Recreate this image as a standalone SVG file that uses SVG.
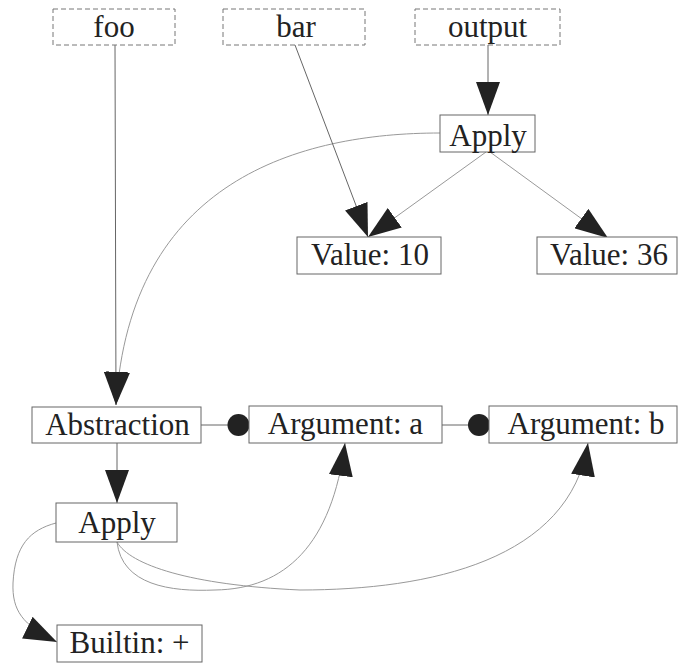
<svg xmlns="http://www.w3.org/2000/svg" width="678" height="664" viewBox="0 0 678 664">
<style>
  .box { fill: #fff; stroke: #666; stroke-width: 1; }
  .dbox { fill: #fff; stroke: #777; stroke-width: 1; stroke-dasharray: 5,3; }
  .edge { fill: none; stroke: #666; stroke-width: 1; }
  .faint { fill: none; stroke: #999; stroke-width: 1; }
  .dot { fill: #222; }
</style>
<defs>
  <marker id="arr" markerUnits="userSpaceOnUse" markerWidth="34" markerHeight="24" refX="33" refY="12" orient="auto">
    <path d="M0,0 L33,12 L0,24 z" fill="#222"/>
  </marker>
</defs>

<g id="connectors">
  <path class="edge" d="M115,45 L116,405" marker-end="url(#arr)"/>
  <path class="faint" d="M440,133 C300,133 130,180 116,405" marker-end="url(#arr)"/>
  <path class="edge" d="M295,45 L368,237" marker-end="url(#arr)"/>
  <path class="edge" d="M488,45 L488,115" marker-end="url(#arr)"/>
  <path class="faint" d="M486,152 L368,237" marker-end="url(#arr)"/>
  <path class="faint" d="M490,152 L608,238" marker-end="url(#arr)"/>
  <path class="edge" d="M117,443 L117,503" marker-end="url(#arr)"/>
  <path class="edge" d="M201,425 L228,425"/>
  <circle class="dot" cx="238.5" cy="425" r="11"/>
  <path class="edge" d="M442,425 L469,425"/>
  <circle class="dot" cx="479" cy="425" r="11"/>
  <path class="faint" d="M117,542 C122,585 170,592 215,590 C285,589 332,545 345,443" marker-end="url(#arr)"/>
  <path class="faint" d="M117,542 C130,565 190,585 300,590 C430,590 570,560 588,443" marker-end="url(#arr)"/>
  <path class="faint" d="M56,523 C30,530 15,545 13,583 C12,610 22,625 57,642" marker-end="url(#arr)"/>
</g>

<g font-family="Liberation Serif, DejaVu Serif, serif" font-size="31" fill="#222" text-anchor="middle">
<g id="foo">
  <rect class="dbox" x="53" y="9" width="122" height="36"/>
  <text x="114" y="37">foo</text>
</g>
<g id="bar">
  <rect class="dbox" x="223" y="9" width="142" height="36"/>
  <text x="296" y="37">bar</text>
</g>
<g id="output">
  <rect class="dbox" x="415" y="9" width="145" height="36"/>
  <text x="487.5" y="37">output</text>
</g>
<g id="apply-top">
  <rect class="box" x="440" y="115" width="95" height="37"/>
  <text x="488" y="146">Apply</text>
</g>
<g id="value-10">
  <rect class="box" x="297" y="237" width="144" height="37"/>
  <text x="370" y="265">Value: 10</text>
</g>
<g id="value-36">
  <rect class="box" x="537" y="237" width="140" height="37"/>
  <text x="609" y="265">Value: 36</text>
</g>
<g id="abstraction">
  <rect class="box" x="32" y="407" width="169" height="36"/>
  <text x="117.5" y="435">Abstraction</text>
</g>
<g id="argument-a">
  <rect class="box" x="249" y="406" width="193" height="37"/>
  <text x="345.5" y="434">Argument: a</text>
</g>
<g id="argument-b">
  <rect class="box" x="489" y="406" width="188" height="37"/>
  <text x="586" y="434">Argument: b</text>
</g>
<g id="apply-bottom">
  <rect class="box" x="56" y="503" width="121" height="39"/>
  <text x="117" y="533">Apply</text>
</g>
<g id="builtin-plus">
  <rect class="box" x="57" y="625" width="145" height="37"/>
  <text x="129.5" y="653">Builtin: +</text>
</g>
</g>
</svg>
